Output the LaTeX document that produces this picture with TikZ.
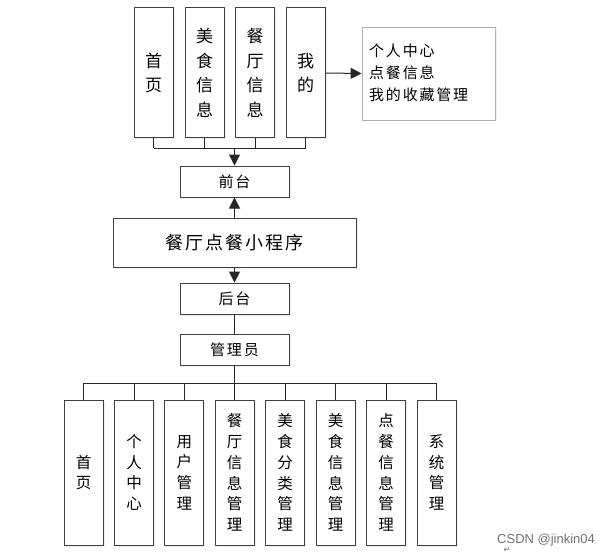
\documentclass[tikz,border=0pt]{standalone}
\usepackage{fontspec}
\setmainfont{Noto Sans CJK SC}
\newfontfamily\spaced[LetterSpace=12]{Noto Sans CJK SC}
\newfontfamily\wmfont{Liberation Sans}
\newfontfamily\symfont{DejaVu Sans}
\usetikzlibrary{arrows.meta,shadows}
\tikzset{
  boxbase/.style={draw=black!75, line width=1pt, fill=white, inner sep=0pt, align=center,
    drop shadow={opacity=0.12, shadow xshift=1.5pt, shadow yshift=-1.5pt}},
  topbox/.style={boxbase, minimum width=39pt, minimum height=130pt, font=\fontsize{17}{24.5}\selectfont},
  botbox/.style={boxbase, minimum width=39pt, minimum height=145pt, font=\fontsize{15.5}{20.7}\selectfont},
  midbox/.style={boxbase, minimum width=109pt, minimum height=31pt, font=\spaced\fontsize{15}{17}\selectfont},
  infobox/.style={draw=black!30, line width=0.8pt, fill=white, inner sep=0pt, minimum width=133pt, minimum height=93pt,
    drop shadow={opacity=0.12, shadow xshift=1.5pt, shadow yshift=-1.5pt}},
  conn/.style={draw=black!85, line width=1pt},
  arr/.style={conn, -{Triangle[length=11pt,width=11pt]}},
}
\begin{document}
\begin{tikzpicture}[x=1pt,y=-1pt]
\useasboundingbox (0,0) rectangle (609,556);
\fill[white] (0,0) rectangle (609,556);

% top boxes
\node[topbox] (t1) at (153.5,73) {首\\页};
\node[topbox] (t2) at (204.5,73) {美\\食\\信\\息};
\node[topbox] (t3) at (255,73) {餐\\厅\\信\\息};
\node[topbox] (t4) at (305.5,73) {我\\的};

% info box
\node[infobox] (info) at (428.5,73.5) {};
\node[anchor=west, align=left, inner sep=0pt, font=\spaced\fontsize{15}{21.7}\selectfont] (infotxt) at (369,73) {个人中心\\点餐信息\\我的收藏管理};

% middle boxes
\node[midbox] (front) at (234.5,181.5) {前台};
\node[boxbase, minimum width=243pt, minimum height=49pt, font=\spaced\fontsize{18}{20}\selectfont] (app) at (234.5,242.5) {餐厅点餐小程序};
\node[midbox] (back) at (234.5,298.5) {后台};
\node[midbox] (admin) at (234.5,349.5) {管理员};

% bottom boxes
\node[botbox] (b1) at (83.5,472.5) {首\\页};
\node[botbox] (b2) at (134,472.5) {个\\人\\中\\心};
\node[botbox] (b3) at (184.3,472.5) {用\\户\\管\\理};
\node[botbox] (b4) at (234.5,472.5) {餐\\厅\\信\\息\\管\\理};
\node[botbox] (b5) at (285,472.5) {美\\食\\分\\类\\管\\理};
\node[botbox] (b6) at (335.5,472.5) {美\\食\\信\\息\\管\\理};
\node[botbox] (b7) at (386,472.5) {点\\餐\\信\\息\\管\\理};
\node[botbox] (b8) at (436.5,472.5) {系\\统\\管\\理};

% top bus
\coordinate (tbus) at (234.5,148);
\foreach \n in {t1,t2,t3,t4} \draw[conn] (\n.south) -- (\n.south |- tbus);
\draw[conn] (t1.south |- tbus) -- (t4.south |- tbus);
\draw[arr] (tbus) -- (front.north);

% arrow to info
\draw[arr] (t4.east) -- (info.west);

% middle
\draw[arr] (app.north) -- (front.south);
\draw[arr] (app.south) -- (back.north);
\draw[conn] (back.south) -- (admin.north);

% bottom bus
\coordinate (bbus) at (234.5,383);
\draw[conn] (admin.south) -- (bbus);
\draw[conn] (b1.north |- bbus) -- (b8.north |- bbus);
\foreach \n in {b1,b2,b3,b4,b5,b6,b7,b8} \draw[conn] (\n.north |- bbus) -- (\n.north);

% watermark
\node[anchor=west, inner sep=0pt, text=black!55, font=\wmfont\fontsize{13}{15}\selectfont] (wm) at (497,540) {CSDN @jinkin04};
\node[inner sep=0pt, text=black!60, font=\symfont\fontsize{8}{9}\selectfont] (ret) at (507,550) {↵};
\end{tikzpicture}
\end{document}
